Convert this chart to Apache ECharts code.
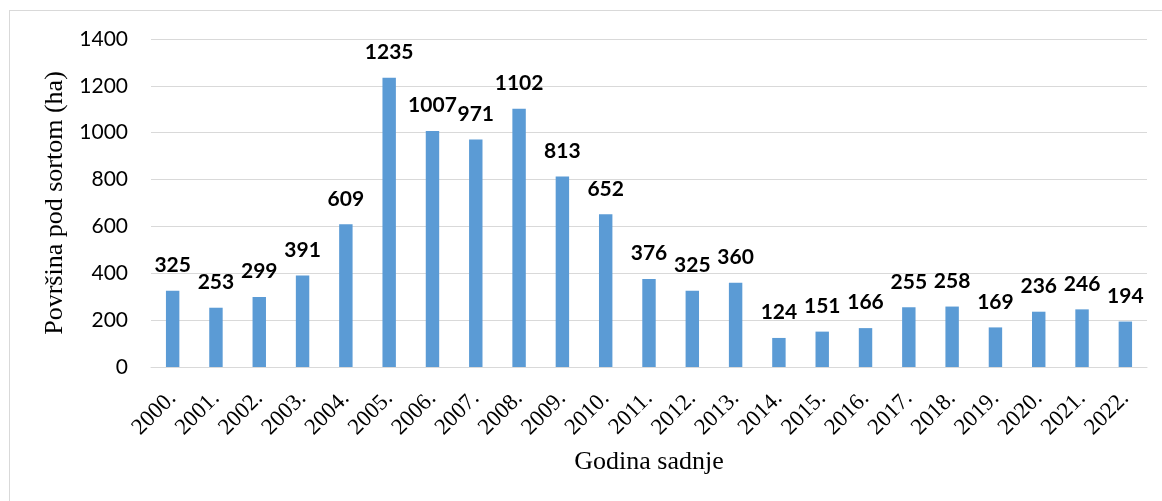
<!DOCTYPE html>
<html><head><meta charset="utf-8">
<script src="https://cdn.jsdelivr.net/npm/echarts@6/dist/echarts.min.js"></script>
<style>html,body{margin:0;padding:0;background:#fff}#c{width:1162px;height:501px}
#frame{position:absolute;left:9px;top:10px;width:1200px;height:600px;border:1px solid #d9d9d9;box-sizing:border-box;pointer-events:none}</style>
</head><body><div id="c"></div><div id="frame"></div>
<script>
const years = ['2000.','2001.','2002.','2003.','2004.','2005.','2006.','2007.','2008.','2009.','2010.','2011.','2012.','2013.','2014.','2015.','2016.','2017.','2018.','2019.','2020.','2021.','2022.'];
const area = [325,253,299,391,609,1235,1007,971,1102,813,652,376,325,360,124,151,166,255,258,169,236,246,194];
const yTicks = {min:0,max:1400,interval:200};
const chart = echarts.init(document.getElementById('c'));
chart.setOption({
  animation:false,
  grid:{left:151,right:15,top:39,bottom:134},
  xAxis:{type:'category',data:years,
    name:'Godina sadnje',nameLocation:'middle',nameGap:82,
    nameTextStyle:{fontFamily:'Liberation Serif',fontSize:26,color:'#000'},
    axisLine:{lineStyle:{color:'#d9d9d9',width:1}},axisTick:{show:false},
    axisLabel:{rotate:45,fontFamily:'Liberation Serif',fontSize:23,color:'#000',margin:28,interval:0}},
  yAxis:{type:'value',min:yTicks.min,max:yTicks.max,interval:yTicks.interval,
    name:'Površina pod sortom (ha)',nameLocation:'middle',nameGap:78,
    nameTextStyle:{fontFamily:'Liberation Serif',fontSize:26,color:'#000'},
    axisLine:{show:false},axisTick:{show:false},
    splitLine:{lineStyle:{color:'#d9d9d9',width:1}},
    axisLabel:{fontFamily:'Lato',fontSize:21,color:'#000',margin:23,formatter:v=>String(v)}},
  series:[{type:'bar',data:area,barWidth:'31%',
    itemStyle:{color:'#5b9bd5'},
    label:{show:true,position:'top',distance:15,fontFamily:'Lato',fontWeight:'bold',fontSize:21,color:'#000'}}]
});
</script></body></html>
